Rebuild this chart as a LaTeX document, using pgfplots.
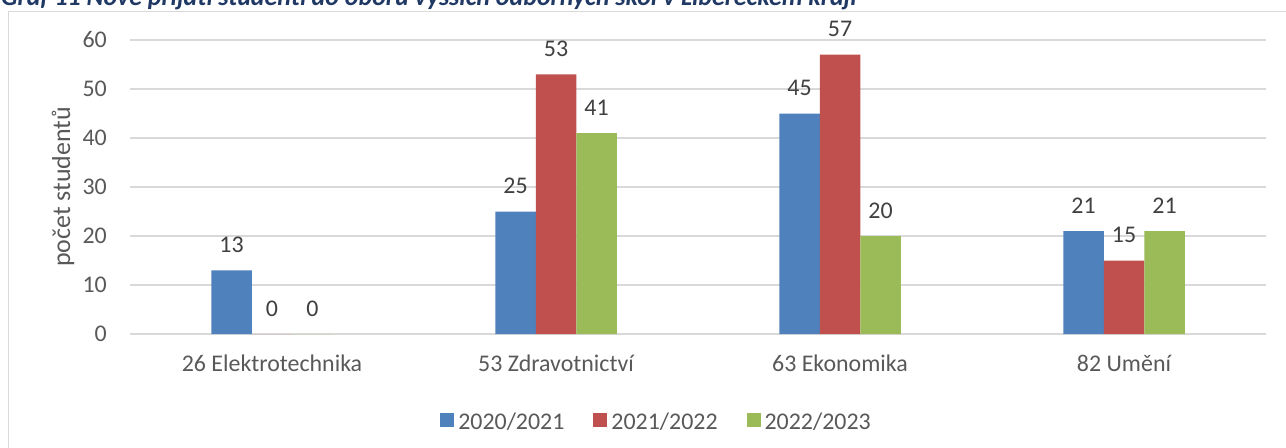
\documentclass[border=0pt]{standalone}
\usepackage{fontspec}
\setmainfont{Carlito}
\usepackage{pgfplots}
\pgfplotsset{compat=1.18}
\definecolor{barblue}{HTML}{4F81BD}
\definecolor{barred}{HTML}{C0504D}
\definecolor{bargreen}{HTML}{9BBB59}
\definecolor{gridgray}{HTML}{D9D9D9}
\definecolor{textgray}{HTML}{595959}
\definecolor{labelgray}{HTML}{404040}
\definecolor{titleblue}{HTML}{1F3864}
\newcommand{\chartfont}{\fontsize{24}{29}\selectfont}
\begin{document}
\begin{tikzpicture}
\useasboundingbox (0,0) rectangle (1286bp,-448bp);
\clip (0,0) rectangle (1286bp,-448bp);
\fill[white] (0,0) rectangle (1286bp,-448bp);
\draw[gridgray, line width=1.5bp] (8.5bp,-500bp) -- (8.5bp,-11.5bp) -- (1300bp,-11.5bp);
\node[anchor=base west, inner sep=0, text=titleblue, font=\fontsize{26}{31}\selectfont\bfseries\itshape] at (1bp,-5bp) {Graf 11 Nově přijatí studenti do oborů vyšších odborných škol v Libereckém kraji};
\node[rotate=90, anchor=base, inner sep=0, text=textgray, font=\fontsize{26}{31}\selectfont] at (70bp,-187bp) {počet studentů};
\begin{axis}[
  at={(130bp,-334bp)}, anchor=south west,
  scale only axis, width=1136bp, height=294bp,
  clip=false,
  ybar=0pt, bar width=40.5bp,
  ymin=0, ymax=60, ytick={0,10,...,60},
  xmin=-0.5, xmax=3.5, xtick={0,1,2,3},
  xticklabels={26 Elektrotechnika, 53 Zdravotnictví, 63 Ekonomika, 82 Umění},
  axis line style={draw=none},
  major tick length=0pt,
  ymajorgrids, grid style={gridgray, line width=1.3bp},
  tick label style={font=\chartfont, text=textgray},
  yticklabel style={anchor=east, inner sep=0pt, xshift=-23bp},
  xticklabel style={anchor=base, inner sep=0pt, yshift=-37bp},
  /pgf/number format/assume math mode=true,
  nodes near coords,
  every node near coord/.append style={font=\chartfont, text=labelgray, anchor=base, inner sep=0pt, yshift=18bp},
  legend columns=3,
  legend style={at={(0.4635,-0.2993)}, anchor=center, draw=none, fill=none, font=\chartfont, text=textgray,
    /tikz/every odd column/.append style={column sep=2bp},
    /tikz/every even column/.append style={column sep=27bp}},
  legend image code/.code={\path[#1, draw=none] (0bp,-4.5bp) rectangle (14bp,9.5bp);},
]
\addplot[fill=barblue, draw=none] coordinates {(0,13) (1,25) (2,45) (3,21)};
\addplot[fill=barred, draw=none] coordinates {(0,0) (1,53) (2,57) (3,15)};
\addplot[fill=bargreen, draw=none] coordinates {(0,0) (1,41) (2,20) (3,21)};
\legend{2020/2021, 2021/2022, 2022/2023}
\end{axis}
\end{tikzpicture}
\end{document}
